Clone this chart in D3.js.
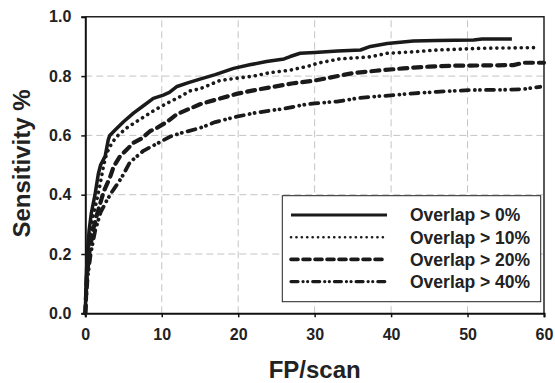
<!DOCTYPE html>
<html>
<head>
<meta charset="utf-8">
<script src="https://cdn.jsdelivr.net/npm/d3@7"></script>
<style>
  html, body { margin: 0; padding: 0; background: #fff; }
  svg { display: block; font-family: "Liberation Sans", Arial, sans-serif; font-weight: bold; }
</style>
</head>
<body>
<div id="chart"></div>
<script>
var xTicks = [0, 10, 20, 30, 40, 50, 60];
var yTicks = [0.0, 0.2, 0.4, 0.6, 0.8, 1.0];
var seriesNames = ["Overlap > 0%", "Overlap > 10%", "Overlap > 20%", "Overlap > 40%"];

var overlap0 = [[0,0],[0.1,0.1],[0.25,0.2],[0.5,0.28],[0.8,0.34],[1.27,0.4],[1.7,0.47],[2.0,0.5],[2.6,0.53],[3.0,0.585],[3.2,0.6],[3.9,0.618],[5.0,0.646],[6.3,0.675],[7.6,0.7],[8.9,0.725],[10.2,0.736],[11,0.745],[12,0.765],[13.5,0.778],[15,0.79],[17,0.805],[19.4,0.826],[21.5,0.838],[23.7,0.849],[26,0.858],[26.8,0.866],[28.1,0.877],[30,0.88],[33,0.885],[36,0.888],[37.3,0.9],[39.5,0.91],[42.9,0.918],[46,0.92],[50.8,0.922],[51.9,0.925],[55.8,0.925]];
var overlap10 = [[0,0],[0.2,0.15],[0.4,0.22],[0.8,0.3],[1.4,0.37],[1.9,0.43],[2.36,0.494],[2.8,0.54],[3.45,0.573],[4.1,0.596],[5.4,0.625],[7.2,0.655],[9.1,0.686],[11.1,0.714],[12,0.725],[13.7,0.75],[15,0.757],[17.6,0.785],[19.8,0.793],[22,0.8],[24.2,0.812],[26.8,0.82],[29.4,0.835],[30.3,0.843],[33.3,0.858],[37.3,0.865],[39.5,0.877],[43,0.882],[46,0.888],[52.1,0.894],[59,0.896]];
var overlap20 = [[0,0],[0.2,0.12],[0.5,0.2],[1.0,0.28],[1.6,0.34],[2.4,0.41],[3.25,0.46],[3.7,0.494],[4.5,0.528],[6.3,0.575],[7.4,0.59],[8.5,0.615],[9.3,0.624],[10.7,0.646],[12,0.672],[15,0.705],[17,0.72],[19.8,0.74],[22,0.752],[24.2,0.762],[27,0.775],[29.8,0.784],[32,0.795],[35,0.81],[38,0.818],[41.6,0.826],[45,0.832],[48.2,0.835],[52,0.836],[56,0.837],[57.3,0.845],[60,0.845]];
var overlap40 = [[0,0],[0.3,0.12],[0.7,0.2],[1.3,0.28],[2.0,0.34],[2.8,0.38],[3.5,0.41],[4.3,0.44],[4.8,0.46],[5.85,0.51],[7.6,0.548],[9.8,0.578],[11.1,0.596],[12.4,0.607],[15,0.625],[17,0.645],[19.8,0.663],[22,0.675],[24.2,0.684],[26,0.69],[28.5,0.703],[30,0.708],[32.9,0.714],[35.5,0.725],[37.3,0.73],[40,0.735],[43,0.742],[46,0.747],[50.4,0.753],[55,0.754],[57.3,0.756],[59.5,0.764]];

// curve styles, and the thinner legend versions
var styles = [
  { width: 3.5, dash: null },
  { width: 3.6, dash: "0.1 6" },
  { width: 4.2, dash: "8 6" },
  { width: 3.8, dash: "8 6 0.1 5 0.1 6" }
];
var legendStyles = [
  { width: 3.2, dash: null },
  { width: 2.6, dash: "0.1 5.3" },
  { width: 3.6, dash: "7 5" },
  { width: 3.2, dash: "7 5 0.1 4.5 0.1 5" }
];

var W = 555, H = 383;
var margin = { left: 85.3, right: 11, top: 16.8, bottom: 69.7 };

var svg = d3.select("#chart").append("svg")
    .attr("width", W)
    .attr("height", H);

var x = d3.scaleLinear().domain([0, 60]).range([margin.left, W - margin.right]);
var y = d3.scaleLinear().domain([0, 1]).range([H - margin.bottom, margin.top]);

// grid
svg.append("g").selectAll("line.gx")
  .data(xTicks.slice(1, -1)).enter().append("line")
    .attr("x1", function(d) { return x(d); })
    .attr("x2", function(d) { return x(d); })
    .attr("y1", y(0)).attr("y2", y(1))
    .attr("stroke", "#c4c4c4").attr("stroke-width", 1)
    .attr("stroke-dasharray", "7 4");
svg.append("g").selectAll("line.gy")
  .data(yTicks.slice(1, -1)).enter().append("line")
    .attr("y1", function(d) { return y(d); })
    .attr("y2", function(d) { return y(d); })
    .attr("x1", x(0)).attr("x2", x(60))
    .attr("stroke", "#c4c4c4").attr("stroke-width", 1)
    .attr("stroke-dasharray", "7 4");

// border (top/right)
svg.append("path")
    .attr("d", "M" + x(0) + "," + y(1) + "H" + x(60) + "V" + y(0))
    .attr("fill", "none").attr("stroke", "#222").attr("stroke-width", 1.5);

// axes
var xAxis = svg.append("g")
    .attr("transform", "translate(0," + y(0) + ")")
    .call(d3.axisBottom(x).tickValues(xTicks).tickFormat(d3.format("d")).tickSize(4).tickPadding(8));
var yAxis = svg.append("g")
    .attr("transform", "translate(" + x(0) + ",0)")
    .call(d3.axisLeft(y).tickValues(yTicks).tickFormat(d3.format(".1f")).tickSize(4).tickPadding(10));

[xAxis, yAxis].forEach(function(a) {
  a.select(".domain").attr("stroke", "#111").attr("stroke-width", 2);
  a.selectAll(".tick line").attr("stroke", "#111").attr("stroke-width", 1.5);
  a.selectAll(".tick text")
    .attr("fill", "#222")
    .attr("font-family", "Liberation Sans, Arial, sans-serif")
    .attr("font-weight", "bold")
    .attr("font-size", 16);
});
xAxis.selectAll(".tick text").attr("dy", "0.95em");

// curves
var line = d3.line()
    .x(function(d) { return x(d[0]); })
    .y(function(d) { return y(d[1]); });

var series = [overlap0, overlap10, overlap20, overlap40];
svg.append("g").selectAll("path")
  .data(series).enter().append("path")
    .attr("d", line)
    .attr("fill", "none")
    .attr("stroke", "#1a1a1a")
    .attr("stroke-width", function(d, i) { return styles[i].width; })
    .attr("stroke-dasharray", function(d, i) { return styles[i].dash; })
    .attr("stroke-linecap", function(d, i) { return i === 0 ? "butt" : "round"; })
    .attr("stroke-linejoin", "round");

// legend
var legend = svg.append("g");
legend.append("rect")
    .attr("x", 282.3).attr("y", 195.7)
    .attr("width", 258.4).attr("height", 106)
    .attr("fill", "#fff").attr("stroke", "#222").attr("stroke-width", 1);

var rows = legend.selectAll("g.row")
  .data(seriesNames).enter().append("g")
    .attr("transform", function(d, i) { return "translate(0," + (215 + i * 22.2) + ")"; });
rows.append("line")
    .attr("x1", 291).attr("x2", 387)
    .attr("stroke", "#1a1a1a")
    .attr("stroke-width", function(d, i) { return legendStyles[i].width; })
    .attr("stroke-dasharray", function(d, i) { return legendStyles[i].dash; })
    .attr("stroke-linecap", function(d, i) { return i === 0 ? "butt" : "round"; });
rows.append("text")
    .attr("x", 410).attr("dy", "0.36em")
    .attr("font-size", 17.5)
    .attr("fill", "#222")
    .text(function(d) { return d; });

// axis titles
svg.append("text")
    .attr("x", 314.7).attr("y", 377.5)
    .attr("text-anchor", "middle")
    .attr("font-size", 24)
    .attr("fill", "#222")
    .text("FP/scan");
svg.append("text")
    .attr("transform", "translate(29.5,163.5) rotate(-90)")
    .attr("text-anchor", "middle")
    .attr("font-size", 24)
    .attr("fill", "#222")
    .text("Sensitivity %");
</script>
</body>
</html>
